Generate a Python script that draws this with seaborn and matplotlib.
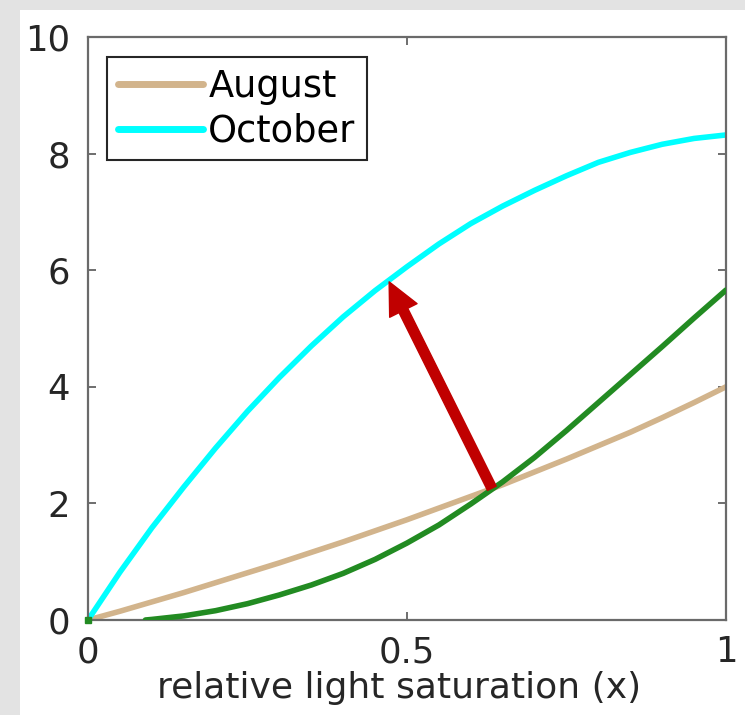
import numpy as np
import pandas as pd
import matplotlib
matplotlib.use("Agg")
import matplotlib.pyplot as plt
import seaborn as sns
from matplotlib.patches import Rectangle

# ---- data ----
x_vals = [0.0, 0.05, 0.1, 0.15, 0.2, 0.25, 0.3, 0.35, 0.4, 0.45, 0.5,
          0.55, 0.6, 0.65, 0.7, 0.75, 0.8, 0.85, 0.9, 0.95, 1.0]
august = [0.0, 0.15, 0.31, 0.47, 0.64, 0.81, 0.98, 1.16, 1.34, 1.53, 1.72,
          1.92, 2.12, 2.32, 2.54, 2.76, 2.99, 3.22, 3.47, 3.73, 4.0]
october = [0.0, 0.82, 1.58, 2.28, 2.95, 3.58, 4.16, 4.70, 5.20, 5.65, 6.06,
           6.45, 6.80, 7.10, 7.37, 7.62, 7.85, 8.02, 8.16, 8.26, 8.32]
green_x = [0.09, 0.1, 0.15, 0.2, 0.25, 0.3, 0.35, 0.4, 0.45, 0.5, 0.55,
           0.6, 0.65, 0.7, 0.75, 0.8, 0.85, 0.9, 0.95, 1.0]
green_y = [0.0, 0.01, 0.07, 0.16, 0.28, 0.43, 0.60, 0.80, 1.04, 1.32, 1.63,
           1.99, 2.37, 2.79, 3.25, 3.73, 4.21, 4.69, 5.18, 5.66]
arrow_start = (0.633, 2.26)
arrow_end = (0.472, 5.80)
series_names = ["August", "October"]
x_ticks = [0, 0.5, 1]
x_tick_labels = ["0", "0.5", "1"]
y_ticks = [0, 2, 4, 6, 8, 10]
x_label = "relative light saturation (x)"

df = pd.DataFrame({
    "x": x_vals * 2,
    "y": august + october,
    "month": [series_names[0]] * len(x_vals) + [series_names[1]] * len(x_vals),
})
dfg = pd.DataFrame({"x": green_x, "y": green_y})

sns.set_theme(style="white")
plt.rcParams["font.family"] = ["DejaVu Sans"]

fig = plt.figure(figsize=(7.45, 7.15), dpi=100)
fig.patch.set_facecolor("#e3e3e3")
fig.add_artist(Rectangle((20 / 745, 0), 1, 1 - 10 / 715, transform=fig.transFigure,
                         facecolor="white", edgecolor="none", zorder=0))

ax = fig.add_axes([88 / 745, 1 - 620 / 715, (726 - 88) / 745, (620 - 37) / 715])
ax.set_facecolor("white")

palette = {"August": "#D2B48C", "October": "#00FFFF"}
sns.lineplot(data=df, x="x", y="y", hue="month", palette=palette, linewidth=4.0,
             ax=ax, sort=False, zorder=2)
sns.lineplot(data=dfg, x="x", y="y", color="#228B22", linewidth=4.0, ax=ax,
             legend=False, zorder=3, sort=False)
ax.plot([0], [0], marker="s", color="#228B22", markersize=4, zorder=3, clip_on=False)

ax.annotate("", xy=arrow_end, xytext=arrow_start,
            arrowprops=dict(width=7.0, headwidth=22, headlength=23,
                            color="#C00000", shrink=0.0), zorder=4)

ax.set_xlim(0, 1)
ax.set_ylim(0, 10)
ax.set_xticks(x_ticks)
ax.set_xticklabels(x_tick_labels)
ax.set_yticks(y_ticks)
ax.set_xlabel(x_label, fontsize=26, color="#262626")
ax.xaxis.set_label_coords(0.4875, -0.087, transform=ax.transAxes)
ax.xaxis.label.set_va("top")
ax.set_ylabel("")
ax.tick_params(axis="both", which="both", direction="in", length=6, width=1.2,
               colors="#555555", labelcolor="#262626", labelsize=25.5,
               top=True, right=True, bottom=True, left=True)
ax.tick_params(axis="x", pad=11)
ax.tick_params(axis="y", pad=13)
for s in ax.spines.values():
    s.set_color("#6a6a6a")
    s.set_linewidth(1.6)
    s.set_visible(True)

leg = ax.legend(loc="upper left", bbox_to_anchor=(0.0298, 0.9657), borderaxespad=0,
                fontsize=26.5, frameon=True, fancybox=False, framealpha=1,
                edgecolor="#262626", handlelength=2.3, handletextpad=0.15,
                borderpad=0.3, labelspacing=0.2)
leg.get_frame().set_linewidth(1.5)
for t in leg.get_texts():
    t.set_color("black")
for h in leg.get_lines():
    h.set_linewidth(5)

fig.savefig("out.png", dpi=100, facecolor=fig.get_facecolor())
